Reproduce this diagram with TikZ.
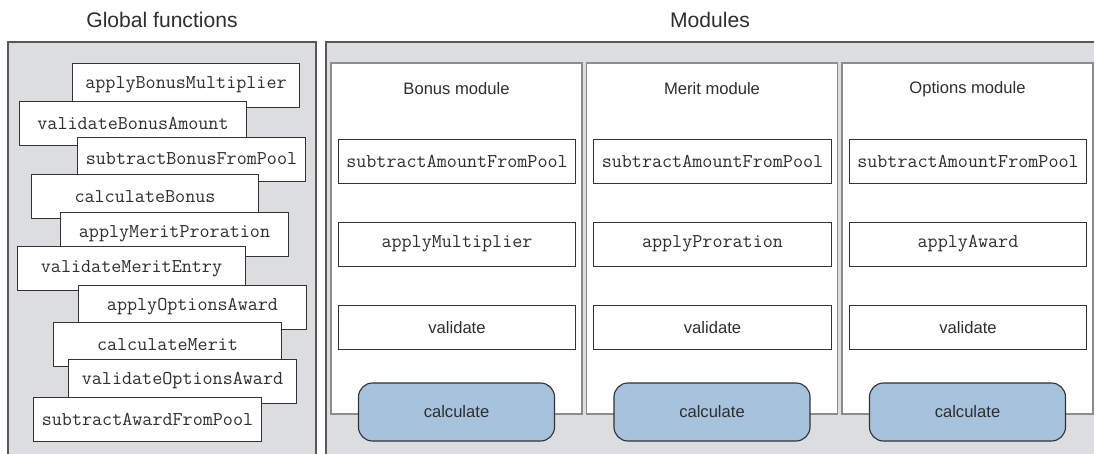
\documentclass[tikz,border=0pt]{standalone}
\usepackage{fontspec}
\setmainfont{Liberation Sans}
\definecolor{panelgray}{HTML}{DCDDDF}
\definecolor{calcblue}{HTML}{A6C2DC}
\definecolor{inkgray}{HTML}{2E2E2E}
\begin{document}
\begin{tikzpicture}[x=0.025cm, y=-0.025cm,
    heading/.style={text=inkgray, font=\fontsize{15}{18}\selectfont},
    panel/.style={fill=panelgray, draw=black!65, line width=1.2pt},
    modcol/.style={fill=white, draw=black!45, line width=0.8pt, minimum width=6.275cm, minimum height=8.775cm, inner sep=0},
    modtitle/.style={text=inkgray, font=\fontsize{11.8}{14}\selectfont},
    fnbox/.style={fill=white, draw=black!80, line width=0.7pt, minimum width=5.675cm, minimum height=1.1cm, inner sep=0, text=inkgray, font=\ttfamily\fontsize{13.9}{16}\selectfont},
    memberbox/.style={fnbox, minimum width=5.925cm},
    plainbox/.style={memberbox, font=\fontsize{11.8}{14}\selectfont},
    calcbox/.style={fill=calcblue, draw=black!80, line width=0.8pt, rounded corners=10pt, minimum width=4.9cm, minimum height=1.45cm, inner sep=0, text=inkgray, font=\fontsize{11.8}{14}\selectfont}]
  \useasboundingbox (0,0) rectangle (1094,454);
  \clip (0,0) rectangle (1094,454);
  % the two panels
  \node[heading] (globalhead) at (162,20) {Global functions};
  \node[heading] (modhead) at (710,20) {Modules};
  \draw[panel] (8,42) rectangle (316,470);
  \draw[panel] (326,42) rectangle (1110,470);
  % global functions, each one laid over the one before
  \node[fnbox] (f1) at (186,85) {applyBonusMultiplier};
  \node[fnbox] (f2) at (133,123.5) {validateBonusAmount};
  \node[fnbox] (f3) at (191.5,159) {subtractBonusFromPool};
  \node[fnbox] (f4) at (145,196.5) {calculateBonus};
  \node[fnbox] (f5) at (174.5,234) {applyMeritProration};
  \node[fnbox] (f6) at (131.5,268.5) {validateMeritEntry};
  \node[fnbox] (f7) at (192.5,307) {applyOptionsAward};
  \node[fnbox] (f8) at (167.5,344.5) {calculateMerit};
  \node[fnbox] (f9) at (182.5,381) {validateOptionsAward};
  \node[fnbox] (f10) at (147.5,419) {subtractAwardFromPool};
  % the three modules
  \foreach \m/\x/\title/\apply in {bonus/456.5/Bonus/applyMultiplier, merit/712/Merit/applyProration, options/967.5/Options/applyAward}{
    \node[modcol] (\m-col) at (\x,238.5) {};
    \node[modtitle] (\m-title) at (\x,89) {\title{} module};
    \node[memberbox] (\m-sub) at (\x+0.5,161) {subtractAmountFromPool};
    \node[memberbox] (\m-apply) at (\x+0.5,244) {\apply};
    \node[plainbox] (\m-valid) at (\x+0.5,327.5) {validate};
    \node[calcbox] (\m-calc) at (\x,412) {calculate};
  }
\end{tikzpicture}
\end{document}
